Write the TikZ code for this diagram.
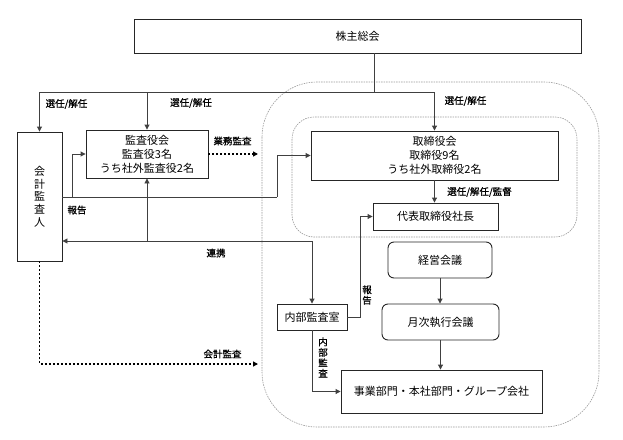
\documentclass[tikz,border=0pt]{standalone}
\usepackage{fontspec}
\setmainfont{Noto Sans CJK JP}
\newfontfamily\labfont[FakeBold=0.8]{Noto Sans CJK JP}
\usetikzlibrary{arrows.meta}
\tikzset{
  boxnode/.style={draw=black!85, line width=0.9pt, inner sep=0pt, align=center,
    font=\fontsize{11}{14}\selectfont},
  rbox/.style={boxnode, rounded corners=6pt},
  conn/.style={draw=black!75, line width=0.9pt},
  tip/.style={-{Triangle[length=5pt,width=5pt]}},
  dotconn/.style={draw=black, line width=1.6pt, dash pattern=on 1.6pt off 2.4pt},
  lab/.style={inner sep=0pt, font=\labfont\fontsize{9.5}{10}\selectfont},
  vlab/.style={inner sep=0pt, align=center, font=\labfont\fontsize{9.5}{10.5}\selectfont},
  group/.style={draw=black!40, line width=0.6pt, dash pattern=on 1.5pt off 1pt}
}
\begin{document}
\begin{tikzpicture}[x=1pt,y=-1pt]
\useasboundingbox (0,0) rectangle (623,439);
% groups
\draw[group, rounded corners=55pt] (262,82) rectangle (599,427);
\draw[group, rounded corners=22pt] (292,117) rectangle (577,237);
% nodes
\node[boxnode, minimum width=447pt, minimum height=34pt] (kabu) at (357.5,36) {株主総会};
\node[boxnode, minimum width=45pt, minimum height=129pt, font=\fontsize{11}{12.7}\selectfont] (kaikei) at (39.5,196.5) {会\\計\\監\\査\\人};
\node[boxnode, minimum width=122pt, minimum height=48pt] (kansa) at (147,154) {監査役会\\監査役3名\\うち社外監査役2名};
\node[boxnode, minimum width=247pt, minimum height=49pt] (tori) at (434.5,155.5) {取締役会\\取締役9名\\うち社外取締役2名};
\node[boxnode, minimum width=125pt, minimum height=27pt] (daihyo) at (435.5,216.5) {代表取締役社長};
\node[boxnode, minimum width=70pt, minimum height=26pt] (naibu) at (312,317) {内部監査室};
\node[rbox, minimum width=104pt, minimum height=36pt] (keiei) at (440,260) {経営会議};
\node[rbox, minimum width=117pt, minimum height=36pt] (getsuji) at (440.5,322) {月次執行会議};
\node[boxnode, minimum width=201pt, minimum height=43pt] (jigyo) at (441.5,391.5) {事業部門・本社部門・グループ会社};
% coordinates
\coordinate (j) at (374,92);
\coordinate (r1) at (72,197);
\coordinate (r2) at (277,197);
\coordinate (c1) at (312,241);
\coordinate (ka) at (258,364);
\coordinate (gy) at (258,154);
\coordinate (h1) at (360,217);
% shareholders
\draw[conn] (kabu.south -| j) -- (j);
\draw[conn] (kaikei.north |- j) -- (tori.north |- j);
\draw[conn, tip] (kaikei.north |- j) -- (kaikei.north);
\draw[conn, tip] (kansa.north |- j) -- (kansa.north);
\draw[conn, tip] (tori.north |- j) -- (tori.north);
% report from accounting auditor
\draw[conn] (kaikei.east |- r1) -- (r2);
\draw[conn, tip] (r1) |- (kansa.west);
\draw[conn, tip] (r2) |- (tori.west);
% cooperation
\draw[conn, {Triangle[length=5pt,width=5pt]}-{Triangle[length=5pt,width=5pt]}] (kaikei.east |- c1) -- (c1) -- (naibu.north);
\draw[conn, tip] (kansa.south |- c1) -- (kansa.south);
% dotted
\draw[dotconn, tip] (kaikei.south) |- (ka);
\draw[dotconn, tip] (kansa.east) -- (gy);
% board
\draw[conn, tip] (tori.south) -- (tori.south |- daihyo.north);
\draw[conn, tip] (naibu.east) -- (naibu.east -| h1) |- (daihyo.west);
\draw[conn, tip] (keiei.south) -- (keiei.south |- getsuji.north);
\draw[conn, tip] (getsuji.south) -- (getsuji.south |- jigyo.north);
\draw[conn, tip] (naibu.south) |- (jigyo.west);
% labels
\node[lab] (l1) at (66.5,104) {選任/解任};
\node[lab] (l2) at (191,103) {選任/解任};
\node[lab] (l3) at (465.5,101) {選任/解任};
\node[lab] (l4) at (232.5,141) {業務監査};
\node[lab] (l5) at (77,210) {報告};
\node[lab] (l6) at (216,253) {連携};
\node[lab] (l7) at (222.5,354) {会計監査};
\node[lab] (l8) at (479.5,192) {選任/解任/監督};
\node[vlab] (l9) at (367,295) {報\\告};
\node[vlab] (l10) at (323,357.5) {内\\部\\監\\査};
\end{tikzpicture}
\end{document}
